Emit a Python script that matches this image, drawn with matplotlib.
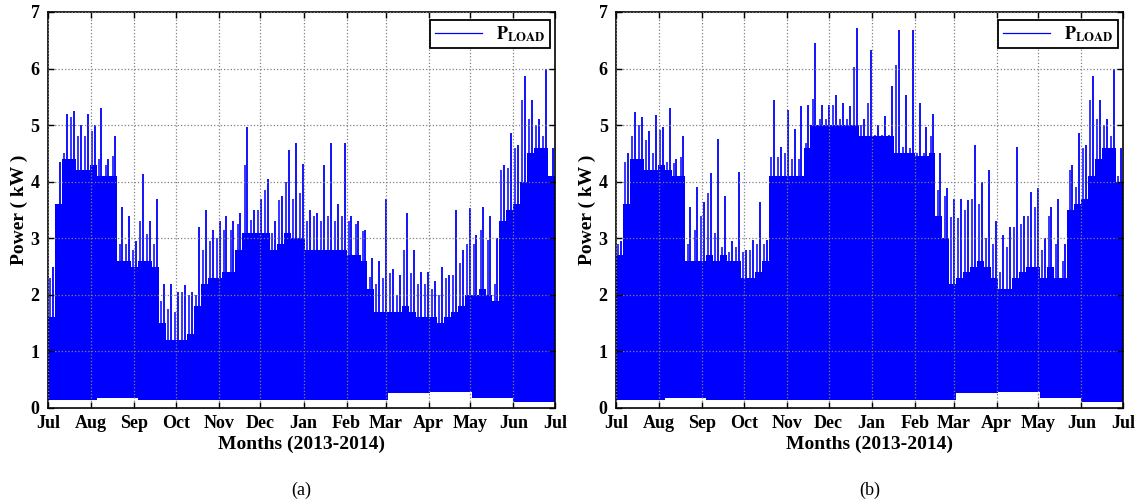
import matplotlib.pyplot as plt
import numpy as np

plt.rcParams["font.family"] = ["Liberation Serif", "DejaVu Serif"]
plt.rcParams["mathtext.fontset"] = "stix"

# x axis: days since 1 Jul 2013, month ticks
month_starts = [0, 31, 62, 92, 123, 153, 184, 215, 243, 274, 304, 335, 365]
month_labels = ["Jul", "Aug", "Sep", "Oct", "Nov", "Dec", "Jan",
                "Feb", "Mar", "Apr", "May", "Jun", "Jul"]

bin_days = 5  # readings taken every 5 days (73 bins)

# lowest level of the load (kW) per month
floor_month = [0.15, 0.18, 0.15, 0.15, 0.15, 0.15, 0.15, 0.15, 0.26, 0.28, 0.18, 0.10]

# (a) highest spike, second spike and top of the dense band per 5-day bin (kW)
peak_a = [2.5, 4.35, 5.2, 5.25, 5.0, 5.2, 5.0, 5.3, 4.4, 4.8,
          3.55, 3.4, 2.95, 4.13, 3.3, 3.7, 2.2, 2.2, 2.05, 2.17,
          2.05, 3.2, 3.5, 3.15, 3.3, 3.4, 3.3, 3.45, 4.97, 3.5,
          3.7, 4.05, 3.3, 3.75, 4.56, 4.68, 4.32, 3.5, 3.45, 4.3,
          4.68, 3.6, 4.68, 3.4, 3.3, 3.15, 2.65, 2.6, 3.7, 2.45,
          2.35, 3.44, 2.8, 2.4, 2.4, 2.25, 2.5, 2.35, 3.5, 2.8,
          3.53, 3.05, 3.55, 3.4, 3.0, 4.3, 4.86, 4.65, 5.87, 5.44,
          5.1, 5.99, 4.6]
spike2_a = [2.3, 3.6, 4.5, 5.15, 4.8, 4.8, 4.9, 4.4, 4.3, 4.45,
            2.9, 2.9, 2.8, 3.3, 3.08, 2.9, 1.9, 1.75, 1.7, 2.05,
            2.0, 2.0, 2.8, 2.95, 3.0, 3.15, 3.15, 3.26, 4.3, 3.33,
            3.5, 3.85, 3.1, 3.68, 4.0, 3.7, 3.8, 3.3, 3.4, 3.3,
            3.4, 3.3, 3.4, 3.3, 3.26, 3.12, 2.32, 2.2, 2.3, 2.38,
            2.0, 2.8, 2.38, 2.2, 2.2, 2.1, 2.0, 2.3, 2.35, 2.56,
            2.9, 2.9, 3.15, 2.97, 2.2, 4.2, 4.25, 4.6, 5.45, 5.1,
            5.0, 4.8, 4.1]
body_a = [1.6, 3.6, 4.4, 4.4, 4.2, 4.2, 4.3, 4.1, 4.1, 4.1,
          2.6, 2.6, 2.5, 2.6, 2.6, 2.5, 1.5, 1.2, 1.2, 1.2,
          1.3, 1.8, 2.2, 2.3, 2.3, 2.4, 2.4, 2.8, 3.1, 3.1,
          3.1, 3.1, 2.8, 2.9, 3.1, 3.0, 3.0, 2.8, 2.8, 2.8,
          2.8, 2.8, 2.8, 2.7, 2.7, 2.6, 2.1, 1.7, 1.7, 1.7,
          1.7, 1.8, 1.7, 1.6, 1.6, 1.6, 1.5, 1.6, 1.7, 1.8,
          2.0, 2.0, 2.1, 2.0, 1.9, 3.3, 3.5, 3.6, 4.0, 4.5,
          4.6, 4.6, 4.1]

# (b)
peak_b = [2.95, 4.5, 5.24, 5.15, 4.9, 5.18, 4.97, 5.3, 4.4, 4.8,
          3.56, 3.91, 3.65, 4.15, 4.75, 3.74, 2.95, 4.18, 2.8, 2.97,
          3.65, 2.97, 5.44, 4.62, 5.27, 4.94, 5.33, 5.36, 6.45, 5.36,
          5.36, 5.53, 5.39, 5.33, 6.71, 5.1, 6.33, 5.0, 5.16, 5.69,
          6.68, 5.53, 6.68, 5.39, 4.97, 5.2, 4.5, 3.88, 3.7, 3.7,
          3.68, 4.65, 4.0, 4.2, 3.3, 3.05, 3.2, 4.62, 3.4, 3.82,
          3.88, 3.0, 3.55, 3.7, 2.9, 4.3, 4.86, 4.65, 5.87, 5.44,
          5.1, 5.99, 4.6]
spike2_b = [2.9, 4.35, 4.8, 5.0, 4.74, 4.5, 4.91, 4.35, 4.33, 4.44,
            2.9, 3.15, 3.4, 3.8, 3.09, 2.85, 2.76, 2.85, 2.76, 2.8,
            2.9, 2.9, 4.44, 4.44, 4.5, 4.4, 4.4, 4.68, 5.46, 5.1,
            5.1, 5.36, 5.1, 5.1, 6.03, 5.0, 5.39, 4.83, 4.83, 4.83,
            6.06, 4.62, 4.6, 4.5, 4.5, 4.8, 3.85, 3.74, 3.38, 3.35,
            3.5, 3.7, 3.6, 3.0, 2.9, 2.4, 2.85, 3.2, 3.26, 3.4,
            3.56, 2.8, 3.4, 2.9, 2.6, 4.2, 3.9, 4.6, 5.44, 5.1,
            5.0, 4.8, 4.1]
body_b = [2.7, 3.6, 4.4, 4.4, 4.2, 4.2, 4.3, 4.2, 4.1, 4.1,
          2.6, 2.6, 2.6, 2.7, 2.6, 2.7, 2.6, 2.6, 2.3, 2.3,
          2.4, 2.6, 4.1, 4.1, 4.1, 4.1, 4.1, 4.6, 5.0, 5.0,
          5.0, 5.0, 5.0, 5.0, 5.0, 4.8, 4.8, 4.8, 4.8, 4.8,
          4.5, 4.5, 4.5, 4.45, 4.45, 4.5, 3.4, 3.0, 2.2, 2.3,
          2.4, 2.5, 2.6, 2.5, 2.3, 2.1, 2.1, 2.3, 2.4, 2.5,
          2.5, 2.3, 2.5, 2.3, 2.3, 3.5, 3.6, 3.7, 4.1, 4.4,
          4.6, 4.6, 4.0]

BLUE = "#0000ff"


def draw_panel(ax, peak, spike2, body, caption):
    n = len(peak)
    edges = np.arange(n + 1) * bin_days
    month_idx = np.searchsorted(month_starts, edges, side="right") - 1
    month_idx = np.clip(month_idx, 0, 11)
    floor = np.array(floor_month)[month_idx]

    body_step = np.append(body, body[-1])
    ax.fill_between(edges, floor, body_step, step="post", color=BLUE, linewidth=0)
    ax.vlines(edges[:-1] + 3.5, floor[:-1], peak, color=BLUE, linewidth=1.3)
    ax.vlines(edges[:-1] + 1.5, floor[:-1], spike2, color=BLUE, linewidth=1.1)
    ax.plot([], [], color=BLUE, linewidth=0.9, label=r"$\mathbf{P}_{\mathbf{LOAD}}$")

    ax.set_xlim(0, 365)
    ax.set_ylim(0, 7)
    ax.set_xticks(month_starts)
    ax.set_xticklabels(month_labels)
    ax.set_yticks(range(8))
    for lbl in ax.get_xticklabels() + ax.get_yticklabels():
        lbl.set_fontweight("bold")
        lbl.set_fontsize(13)
    ax.tick_params(direction="in", top=True, right=True, length=4, width=1)
    ax.tick_params(axis="x", pad=5)
    ax.tick_params(axis="y", pad=6)
    ax.grid(True, linestyle=":", color="#808080", linewidth=0.9)
    ax.set_axisbelow(False)
    for s in ax.spines.values():
        s.set_linewidth(1.2)
    ax.set_xlabel("Months (2013-2014)", fontsize=14, fontweight="bold", labelpad=3)
    ax.set_ylabel("Power ( kW )", fontsize=14, fontweight="bold", labelpad=2)
    leg = ax.legend(loc="upper right", fontsize=13, fancybox=False, framealpha=1,
                    edgecolor="black", handlelength=2.6, borderpad=0.25,
                    borderaxespad=0, bbox_to_anchor=(0.99, 0.98))
    leg.get_frame().set_linewidth(1.3)
    ax.text(0.5, -0.207, caption, transform=ax.transAxes, ha="center",
            va="center", fontsize=13)


fig = plt.figure(figsize=(11.37, 5.04), dpi=100)
ax1 = fig.add_axes([0.0422, 0.1905, 0.4459, 0.7857])
ax2 = fig.add_axes([0.5418, 0.1905, 0.4459, 0.7857])

draw_panel(ax1, peak_a, spike2_a, body_a, "(a)")
draw_panel(ax2, peak_b, spike2_b, body_b, "(b)")

fig.savefig("out.png", dpi=100)
